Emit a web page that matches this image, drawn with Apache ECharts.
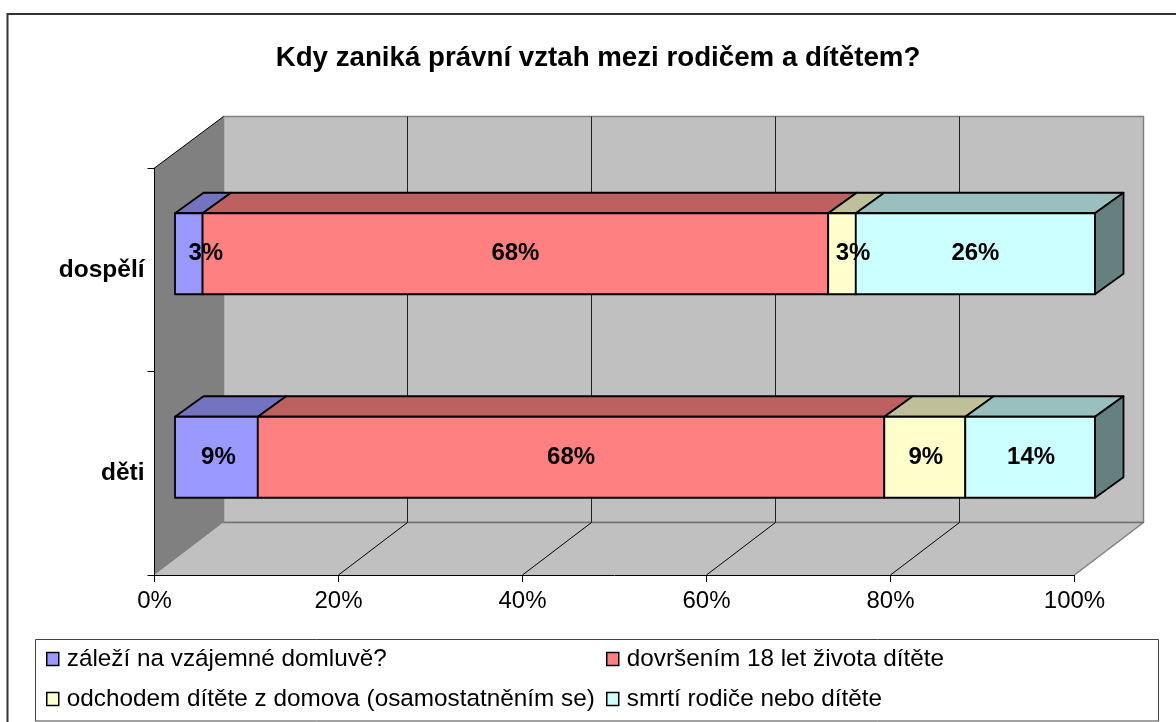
<!DOCTYPE html>
<html><head><meta charset="utf-8">
<style>html,body{margin:0;padding:0;background:#fff}#c{width:1176px;height:722px}</style>
<script src="https://cdn.jsdelivr.net/npm/echarts@6/dist/echarts.min.js"></script>
</head><body><div id="c"></div>
<script>
const titleText = 'Kdy zaniká právní vztah mezi rodičem a dítětem?';
const categories = ['děti', 'dospělí'];
const seriesNames = ['záleží na vzájemné domluvě?', 'dovršením 18 let života dítěte', 'odchodem dítěte z domova (osamostatněním se)', 'smrtí rodiče nebo dítěte'];
const domluva = [9.0, 3.0];
const dovrseni = [68.1, 68.0];
const odchod = [8.8, 3.0];
const smrt = [14.1, 26.0];
const axisTicks = [0, 20, 40, 60, 80, 100];

const front = ['#9999FF', '#FF8080', '#FFFFCC', '#CCFFFF'];
const topFace = ['#7373BF', '#BF6060', '#BFBF99', '#99BFBF'];
const sideFace = '#668080';
const FONT = '"Liberation Sans", Arial, sans-serif';
const WALL = {dx: 69, dyTop: -51.5, dyBottom: -52.5};
const BAR = {sx: 20.5, sy: -16, dx: 28.5, dy: -20.5, h: 81};
// nudge of the labels that do not fit their narrow segment: [series][category]
const labelNudge = [[2, 17], [0, 0], [1, 11], [1, 0]];

const allValues = [domluva, dovrseni, odchod, smrt];
const stacked = allValues.map((vals, s) => vals.map((v, c) => {
  let start = 0;
  for (let k = 0; k < s; k++) start += allValues[k][c];
  return [start, c, start + v, v];
}));

function poly(points, fill, stroke, lw, z2) {
  return {type: 'polygon', shape: {points}, z2: z2 || 0,
    style: {fill, stroke: stroke || null, lineWidth: lw || 0, lineJoin: 'round'}};
}
function line(x1, y1, x2, y2, stroke, lw) {
  return {type: 'line', shape: {x1, y1, x2, y2}, style: {stroke, lineWidth: lw}};
}

function renderWalls(params, api) {
  const g = params.coordSys;
  const x0 = g.x, x1 = g.x + g.width, yT = g.y, yB = g.y + g.height;
  const d = WALL;
  const bT = yT + d.dyTop, bB = yB + d.dyBottom;
  return {type: 'group', children: [
    poly([[x0 + d.dx, bT], [x1 + d.dx, bT], [x1 + d.dx, bB], [x0 + d.dx, bB]], '#C0C0C0', '#808080', 1.5),
    poly([[x0, yB], [x0 + d.dx, bB], [x1 + d.dx, bB], [x1, yB]], '#C0C0C0'),
    poly([[x0, yT], [x0 + d.dx, bT], [x0 + d.dx, bB], [x0, yB]], '#808080'),
    line(x0, yT, x0 + d.dx, bT, '#000', 1),
    line(x0 + d.dx, bB, x1 + d.dx, bB, '#707070', 1.5),
    line(x1, yB, x1 + d.dx, bB, '#808080', 1.5)
  ]};
}
function renderGrid(params, api) {
  const g = params.coordSys, yT = g.y, yB = g.y + g.height;
  const x = api.coord([api.value(0), 0])[0];
  const d = WALL;
  if (api.value(0) === 0 || api.value(0) === 100) return {type: 'group', children: []};
  return {type: 'group', children: [
    line(x, yB, x + d.dx, yB + d.dyBottom, '#000', 1),
    line(x + d.dx, yT + d.dyTop, x + d.dx, yB + d.dyBottom, '#222', 1)
  ]};
}
function makeRender(s) {
  return function (params, api) {
    const c = api.value(1);
    const a = api.coord([api.value(0), c]);
    const b = api.coord([api.value(2), c]);
    const L = a[0] + BAR.sx, R = b[0] + BAR.sx, cy = a[1] + BAR.sy;
    const T = cy - BAR.h / 2, B = cy + BAR.h / 2;
    const kids = [
      poly([[L, T], [L + BAR.dx, T + BAR.dy], [R + BAR.dx, T + BAR.dy], [R, T]], topFace[s], '#000', 1.8),
      poly([[L, T], [R, T], [R, B], [L, B]], front[s], '#000', 1.8)
    ];
    if (s === front.length - 1) {
      kids.push(poly([[R, T], [R + BAR.dx, T + BAR.dy], [R + BAR.dx, B + BAR.dy], [R, B]], sideFace, '#000', 1.8));
    }
    kids.push({type: 'text', z2: 50, style: {
      x: (L + R) / 2 + labelNudge[s][c], y: cy,
      text: Math.round(api.value(3)) + '%',
      font: 'bold 24px ' + FONT, fill: '#000', align: 'center', verticalAlign: 'middle'
    }});
    return {type: 'group', children: kids};
  };
}

const barSeries = stacked.map((data, s) => ({
  type: 'custom', name: seriesNames[s], coordinateSystem: 'cartesian2d', z: 3,
  data, encode: {x: [0, 2], y: 1}, renderItem: makeRender(s),
  itemStyle: {color: front[s]}, silent: true
}));

const legendBase = {
  orient: 'vertical', top: 647, itemWidth: 12, itemHeight: 13, itemGap: 16, padding: 0,
  icon: 'rect', selectedMode: false,
  itemStyle: {borderColor: '#000', borderWidth: 1.5},
  textStyle: {fontFamily: FONT, fontSize: 24.3, color: '#000', padding: [0, 0, 0, 3]}
};

const chart = echarts.init(document.getElementById('c'), null, {renderer: 'canvas'});
chart.setOption({
  animation: false,
  backgroundColor: '#fff',
  title: {text: titleText, left: 598, top: 44, textAlign: 'center', padding: 0,
    textStyle: {fontFamily: FONT, fontWeight: 'bold', fontSize: 27.7, color: '#000'}},
  grid: {left: 154.5, top: 168, width: 920, height: 407, containLabel: false},
  xAxis: {type: 'value', min: 0, max: 100, interval: 20, z: 6,
    axisLine: {show: true, onZero: false, lineStyle: {color: '#000', width: 1}},
    axisTick: {show: true, length: 7, lineStyle: {color: '#000', width: 1}},
    splitLine: {show: false},
    axisLabel: {formatter: '{value}%', fontFamily: FONT, fontSize: 24, color: '#000', margin: 14}},
  yAxis: {type: 'category', data: categories, z: 6,
    axisLine: {show: true, lineStyle: {color: '#000', width: 1}},
    axisTick: {show: true, length: 7, alignWithLabel: false, lineStyle: {color: '#000', width: 1}},
    splitLine: {show: false},
    axisLabel: {fontFamily: FONT, fontWeight: 'bold', fontSize: 24.5, color: '#000', margin: 10}},
  legend: [
    Object.assign({}, legendBase, {left: 46, data: [seriesNames[0], seriesNames[2]]}),
    Object.assign({}, legendBase, {left: 606, data: [seriesNames[1], seriesNames[3]]})
  ],
  graphic: {elements: [
    {type: 'polyline', silent: true, shape: {points: [[7.5, 722], [7.5, 14], [1176, 14]]},
      style: {fill: null, stroke: '#333', lineWidth: 2}},
    {type: 'rect', silent: true, shape: {x: 35.5, y: 639.5, width: 1123, height: 81.5},
      style: {fill: '#fff', stroke: '#444', lineWidth: 1}, z: -1}
  ]},
  series: [
    {type: 'custom', name: 'walls', coordinateSystem: 'cartesian2d', z: 1, silent: true,
      data: [[0, 0]], encode: {x: 0, y: 1}, renderItem: renderWalls},
    {type: 'custom', name: 'gridlines', coordinateSystem: 'cartesian2d', z: 2, silent: true,
      data: axisTicks.map(t => [t, 0]), encode: {x: 0, y: 1}, renderItem: renderGrid}
  ].concat(barSeries)
});
</script></body></html>
